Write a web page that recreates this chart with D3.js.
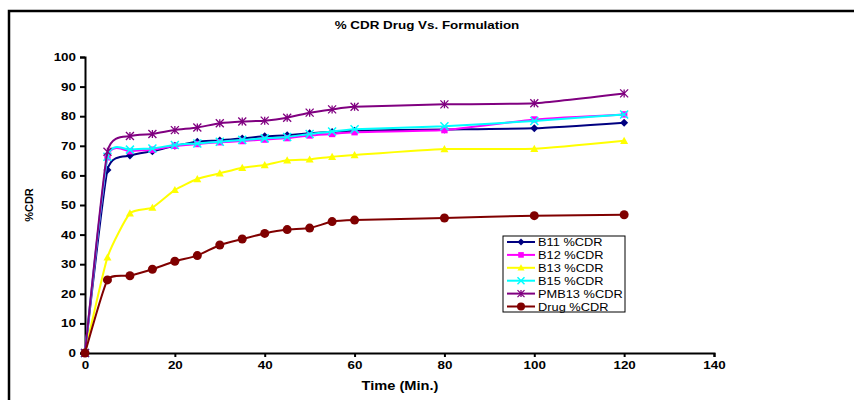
<!DOCTYPE html>
<html>
<head>
<meta charset="utf-8">
<script src="https://cdn.jsdelivr.net/npm/d3@7"></script>
<style>
  body { margin: 0; background: #fff; }
  text { font-family: "Liberation Sans", Arial, sans-serif; }
</style>
</head>
<body>
<div id="chart-area"></div>
<script>
// % CDR drug vs formulation
const times = [0, 5, 10, 15, 20, 25, 30, 35, 40, 45, 50, 55, 60, 80, 100, 120]

const b11   = [0, 61.8, 66.7, 68.2, 70.0, 71.4, 71.8, 72.5, 73.2, 73.6, 74.2, 74.7, 75.1, 75.5, 75.9, 77.8]
const b12   = [0, 66.1, 68.2, 68.7, 70.0, 70.6, 71.2, 71.6, 72.1, 72.6, 73.5, 74.0, 74.6, 75.3, 78.9, 80.6]
const b13   = [0, 32.3, 47.2, 49.1, 55.1, 58.8, 60.7, 62.6, 63.5, 65.1, 65.4, 66.3, 66.9, 68.9, 69.0, 71.7]
const b15   = [0, 66.3, 68.7, 69.1, 70.3, 70.8, 71.4, 72.0, 72.5, 73.0, 74.0, 74.8, 75.6, 76.6, 78.4, 80.6]
const pmb13 = [0, 68.0, 73.3, 74.0, 75.3, 76.2, 77.6, 78.2, 78.5, 79.5, 81.2, 82.3, 83.2, 84.0, 84.4, 87.7]
const drug  = [0, 24.7, 26.1, 28.3, 31.0, 32.9, 36.5, 38.5, 40.4, 41.7, 42.2, 44.4, 44.9, 45.6, 46.4, 46.7]

const seriesNames = ["B11 %CDR", "B12 %CDR", "B13 %CDR", "B15 %CDR", "PMB13 %CDR", "Drug %CDR"]
const xTicks = [0, 20, 40, 60, 80, 100, 120, 140]
const yTicks = [0, 10, 20, 30, 40, 50, 60, 70, 80, 90, 100]

const series = [
  {name: seriesNames[0], values: b11,   color: "#000080", marker: "diamond"},
  {name: seriesNames[1], values: b12,   color: "#FF00FF", marker: "square"},
  {name: seriesNames[2], values: b13,   color: "#FFFF00", marker: "triangle"},
  {name: seriesNames[3], values: b15,   color: "#00FFFF", marker: "x"},
  {name: seriesNames[4], values: pmb13, color: "#800080", marker: "star"},
  {name: seriesNames[5], values: drug,  color: "#800000", marker: "circle"}
]

const W = 854, H = 400
const PLOT = {LEFT: 85, RIGHT: 714, TOP: 57, BOTTOM: 353}
// the original picture is stretched sideways, so text is too
const SX = 1.22

const svg = d3.select("#chart-area").append("svg")
  .attr("width", W)
  .attr("height", H)

// outer frame (runs off the right and bottom edges)
svg.append("rect")
  .attr("x", 9)
  .attr("y", 11)
  .attr("width", 900)
  .attr("height", 450)
  .attr("fill", "#fff")
  .attr("stroke", "#000")
  .attr("stroke-width", 2.5)

const x = d3.scaleLinear()
  .domain([0, 140])
  .range([PLOT.LEFT, PLOT.RIGHT])

const y = d3.scaleLinear()
  .domain([0, 100])
  .range([PLOT.BOTTOM, PLOT.TOP])

function label(px, py, str, size, bold) {
  return svg.append("text")
    .attr("transform", `translate(${px}, ${py}) scale(${SX}, 1)`)
    .attr("text-anchor", "middle")
    .attr("font-size", size)
    .attr("font-weight", bold ? "bold" : "normal")
    .text(str)
}

// title
label(427, 29, "% CDR Drug Vs. Formulation", "11px", true)

// axes
const xAxisCall = d3.axisBottom(x)
  .tickValues(xTicks)
  .tickSize(4)
  .tickPadding(4)
const xAxis = svg.append("g")
  .attr("transform", `translate(0, ${PLOT.BOTTOM})`)
  .call(xAxisCall)

const yAxisCall = d3.axisLeft(y)
  .tickValues(yTicks)
  .tickSize(5)
  .tickPadding(5)
const yAxis = svg.append("g")
  .attr("transform", `translate(${PLOT.LEFT}, 0)`)
  .call(yAxisCall)

;[xAxis, yAxis].forEach(a => {
  a.select(".domain").attr("stroke", "#000").attr("stroke-width", 2)
  a.selectAll(".tick line").attr("stroke", "#000").attr("stroke-width", 2)
  a.selectAll(".tick text")
    .attr("font-family", "Liberation Sans, Arial, sans-serif")
    .attr("font-size", "11px")
    .attr("font-weight", "bold")
    .attr("fill", "#000")
    .attr("transform", `scale(${SX}, 1)`)
})
yAxis.selectAll(".tick text").attr("x", -9 / SX)

// axis labels
label(400, 390, "Time (Min.)", "12px", true)

svg.append("text")
  .attr("transform", "translate(33, 205) rotate(-90)")
  .attr("text-anchor", "middle")
  .attr("font-size", "11px")
  .attr("font-weight", "bold")
  .text("%CDR")

// markers
function drawMarker(sel, type, color, size) {
  const s = size
  if (type === "diamond") {
    sel.append("path")
      .attr("d", `M0,${-s}L${s},0L0,${s}L${-s},0Z`)
      .attr("fill", color)
  } else if (type === "square") {
    sel.append("rect")
      .attr("x", -s * 0.8).attr("y", -s * 0.8)
      .attr("width", s * 1.6).attr("height", s * 1.6)
      .attr("fill", color)
  } else if (type === "triangle") {
    sel.append("path")
      .attr("d", `M0,${-s}L${s},${s * 0.8}L${-s},${s * 0.8}Z`)
      .attr("fill", color)
  } else if (type === "x") {
    sel.append("path")
      .attr("d", `M${-s},${-s}L${s},${s}M${-s},${s}L${s},${-s}`)
      .attr("stroke", color).attr("stroke-width", 1.5)
  } else if (type === "star") {
    sel.append("path")
      .attr("d", `M${-s},${-s}L${s},${s}M${-s},${s}L${s},${-s}M0,${-s}L0,${s}`)
      .attr("stroke", color).attr("stroke-width", 1.3)
  } else if (type === "circle") {
    sel.append("circle")
      .attr("r", s)
      .attr("fill", color)
  }
}

const line = d3.line()
  .x((d, i) => x(times[i]))
  .y(d => y(d))
  .curve(d3.curveCardinal.tension(0.5))

const g = svg.append("g")

series.forEach(s => {
  g.append("path")
    .attr("d", line(s.values))
    .attr("fill", "none")
    .attr("stroke", s.color)
    .attr("stroke-width", 2)

  s.values.forEach((v, i) => {
    const m = g.append("g")
      .attr("transform", `translate(${x(times[i])}, ${y(v)})`)
    drawMarker(m, s.marker, s.color, s.marker === "circle" ? 4.5 : 4)
  })
})

// legend
const legend = svg.append("g")
  .attr("transform", "translate(503, 236)")

legend.append("rect")
  .attr("width", 122)
  .attr("height", 76)
  .attr("fill", "#fff")
  .attr("stroke", "#000")
  .attr("stroke-width", 1)

series.forEach((s, i) => {
  const row = legend.append("g")
    .attr("transform", `translate(0, ${6 + i * 12.9})`)

  row.append("line")
    .attr("x1", 4).attr("x2", 32)
    .attr("stroke", s.color)
    .attr("stroke-width", 2)

  const m = row.append("g").attr("transform", "translate(18, 0)")
  drawMarker(m, s.marker, s.color, s.marker === "circle" ? 4 : 3.5)

  row.append("text")
    .attr("transform", `translate(35, 4) scale(${SX}, 1)`)
    .attr("font-size", "10.5px")
    .text(s.name)
})
</script>
</body>
</html>
